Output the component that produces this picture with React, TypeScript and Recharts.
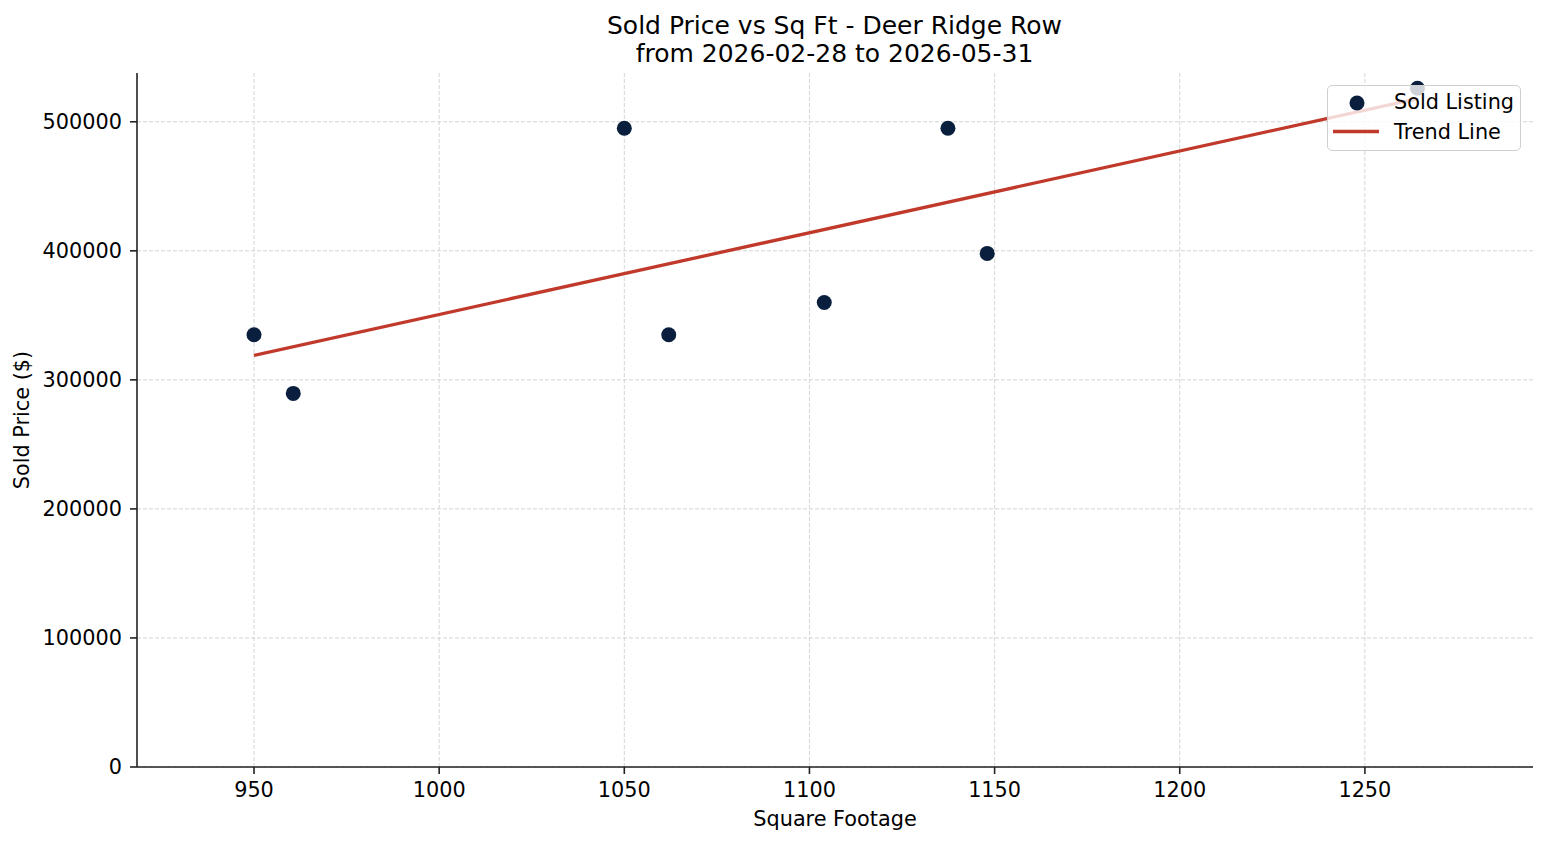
import React from "react";
import { ScatterChart, Scatter, XAxis, YAxis, CartesianGrid, Legend } from "recharts";

// sold listings: square footage vs sold price
const sqft = [950, 960.6, 1050, 1062, 1104, 1137.4, 1148, 1264.2];
const soldPrice = [335000, 289500, 495000, 335000, 360000, 495000, 398000, 526000];

// fitted trend line end points
const trendSqft = [950, 1264.2];
const trendPrice = [319000, 518000];

const xTicks = [950, 1000, 1050, 1100, 1150, 1200, 1250];
const yTicks = [0, 100000, 200000, 300000, 400000, 500000];

const listings = sqft.map((x, i) => ({ sqft: x, price: soldPrice[i] }));
const trend = trendSqft.map((x, i) => ({ sqft: x, price: trendPrice[i] }));

const NAVY = "#0a1f3d";
const RED = "#c0392b";
const FONT = "'DejaVu Sans', sans-serif";
const FS = 20.8;

const axisStroke = { stroke: "#222", strokeWidth: 1.6 };
const tickStyle = { fontSize: FS, fill: "#000" };

function LegendBox() {
  return (
    <div
      style={{
        width: 194,
        height: 66,
        boxSizing: "border-box",
        border: "1.5px solid #cfcfcf",
        borderRadius: 5,
        background: "rgba(255,255,255,0.8)",
        fontFamily: FONT,
      }}
    >
      <svg width={194} height={66} style={{ position: "absolute", left: 0, top: 0 }}>
        <circle cx={30} cy={18} r={7.5} fill={NAVY} />
        <line x1={6} y1={46.5} x2={52} y2={46.5} stroke={RED} strokeWidth={3.3} />
        <text x={67} y={24} fontSize={FS} fill="#000">Sold Listing</text>
        <text x={67} y={54} fontSize={FS} fill="#000">Trend Line</text>
      </svg>
    </div>
  );
}

export default function App() {
  return (
    <div style={{ position: "absolute", left: 0, top: 0, width: 1547, height: 845, background: "#fff", fontFamily: FONT }}>
      <div
        style={{
          position: "absolute",
          left: 137,
          width: 1395,
          top: 11.6,
          textAlign: "center",
          fontSize: 25,
          lineHeight: "28px",
          color: "#000",
        }}
      >
        <div>Sold Price vs Sq Ft - Deer Ridge Row</div>
        <div>from 2026-02-28 to 2026-05-31</div>
      </div>
      <ScatterChart
        width={1547}
        height={845}
        margin={{ top: 73, right: 14, bottom: 0, left: 0 }}
        style={{ fontFamily: FONT }}
      >
        <XAxis
          type="number"
          dataKey="sqft"
          domain={[918.4, 1295.4]}
          ticks={xTicks}
          interval={0}
          height={78}
          axisLine={axisStroke}
          tickLine={axisStroke}
          tickSize={7}
          tickMargin={8}
          tick={tickStyle}
          label={{ value: "Square Footage", position: "insideBottom", offset: 19, fill: "#000", fontSize: FS }}
        />
        <YAxis
          type="number"
          dataKey="price"
          domain={[0, 537800]}
          ticks={yTicks}
          interval={0}
          width={137}
          axisLine={axisStroke}
          tickLine={axisStroke}
          tickSize={7}
          tickMargin={8}
          tick={tickStyle}
          label={{
            value: "Sold Price ($)",
            angle: -90,
            position: "insideLeft",
            offset: 21.4,
            style: { textAnchor: "middle" },
            fill: "#000",
            fontSize: FS,
          }}
        />
        <Scatter
          name="Sold Listing"
          data={listings}
          fill={NAVY}
          isAnimationActive={false}
          shape={(p: any) => <circle cx={p.cx} cy={p.cy} r={7.5} fill={NAVY} />}
        />
        <Scatter
          name="Trend Line"
          data={trend}
          line={{ stroke: RED, strokeWidth: 3.3 }}
          legendType="line"
          isAnimationActive={false}
          shape={() => <g />}
        />
        <CartesianGrid
          stroke="#d4d4d4"
          strokeWidth={1}
          strokeDasharray="4 2"
          horizontalValues={yTicks}
          verticalValues={xTicks}
        />
        <Legend
          content={() => <LegendBox />}
          layout="horizontal"
          verticalAlign="middle"
          align="center"
          wrapperStyle={{ left: 1327, top: 85, width: 194, height: 66 }}
        />
      </ScatterChart>
    </div>
  );
}
